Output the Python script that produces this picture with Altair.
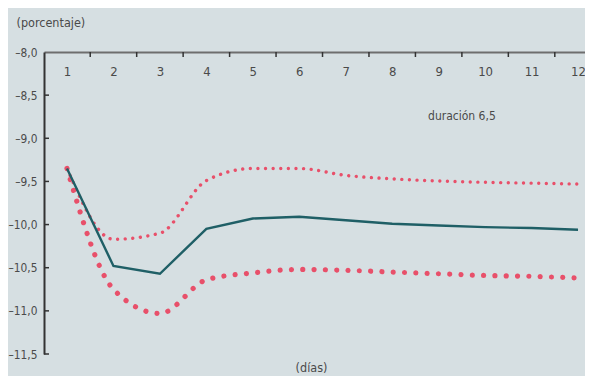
import altair as alt
import pandas as pd

# ---- data ----
dias = [1, 2, 3, 4, 5, 6, 7, 8, 9, 10, 11, 12]
central = [-9.35, -10.48, -10.57, -10.05, -9.93, -9.91, -9.95, -9.99, -10.01, -10.03, -10.04, -10.06]
superior = [-9.35, -10.17, -10.10, -9.49, -9.35, -9.35, -9.43, -9.47, -9.495, -9.51, -9.52, -9.53]
inferior = [-9.35, -10.75, -11.03, -10.64, -10.56, -10.52, -10.53, -10.55, -10.57, -10.59, -10.60, -10.62]

x_ticks = [1.5, 2.5, 3.5, 4.5, 5.5, 6.5, 7.5, 8.5, 9.5, 10.5, 11.5]
y_ticks = [-8.0, -8.5, -9.0, -9.5, -10.0, -10.5, -11.0, -11.5]
nota_texto = ["duración 6,5"]
nota_x = [9.5]
nota_y = [-8.79]

FONT = "DejaVu Sans Condensed"
TEXT = "#4a4a4a"
RED = "#e8506a"
TEAL = "#1f5f66"
BG = "#d6dfe2"

df = pd.DataFrame({"dia": dias, "central": central, "superior": superior, "inferior": inferior})
df_xt = pd.DataFrame({"dia": x_ticks})
df_yt = pd.DataFrame({"v": y_ticks[1:]})
df_note = pd.DataFrame({"texto": nota_texto, "x": nota_x, "y": nota_y})

xscale = alt.Scale(domain=[0.505, 12.15], nice=False, zero=False)
yscale = alt.Scale(domain=[-11.5, -8.0], nice=False, zero=False)

label_expr = "replace(replace(format(datum.value, '.1f'), '.', ','), '\u2212', '\u2013')"

xaxis = alt.Axis(orient="top", values=dias, format="d", ticks=False, tickSize=0,
                 labelPadding=-23, labelBaseline="alphabetic", labelFontSize=13,
                 labelFont=FONT, labelColor=TEXT, grid=False,
                 domainColor="#6e6e6e", domainWidth=2, title=None)
yaxis = alt.Axis(orient="left", values=y_ticks, labelExpr=label_expr, ticks=False,
                 tickSize=0, labelPadding=7, labelFontSize=11.8, labelFont=FONT,
                 labelColor=TEXT, grid=False, domainColor="#333333", domainWidth=2,
                 title="(porcentaje)", titleAngle=0, titleAlign="left",
                 titleBaseline="alphabetic", titleX=-28, titleY=-25.5,
                 titleFont=FONT, titleFontSize=12.5, titleFontWeight="normal",
                 titleColor=TEXT)

base = alt.Chart(df)

lower = base.mark_line(color=RED, strokeWidth=5.2, strokeDash=[0.01, 11.3], strokeCap="round",
                       interpolate="monotone").encode(
    x=alt.X("dia:Q", scale=xscale, axis=xaxis),
    y=alt.Y("inferior:Q", scale=yscale, axis=yaxis),
)

upper = base.mark_line(color=RED, strokeWidth=3.4, strokeDash=[0.01, 7.6], strokeCap="round",
                       interpolate="monotone").encode(
    x=alt.X("dia:Q", scale=xscale, axis=xaxis),
    y=alt.Y("superior:Q", scale=yscale, axis=yaxis),
)

solid = base.mark_line(color=TEAL, strokeWidth=2.4).encode(
    x=alt.X("dia:Q", scale=xscale, axis=xaxis),
    y=alt.Y("central:Q", scale=yscale, axis=yaxis),
)

xt = alt.Chart(df_xt).mark_rule(color="#333333", strokeWidth=1.5).encode(
    x=alt.X("dia:Q", scale=xscale, axis=xaxis),
    y=alt.value(0), y2=alt.value(5),
)

yt = alt.Chart(df_yt).mark_rule(color="#333333", strokeWidth=1.5).encode(
    y=alt.Y("v:Q", scale=yscale, axis=yaxis),
    x=alt.value(0), x2=alt.value(5),
)

note = alt.Chart(df_note).mark_text(font=FONT, fontSize=12, color=TEXT, align="center",
                                    baseline="alphabetic").encode(
    x=alt.X("x:Q", scale=xscale, axis=xaxis),
    y=alt.Y("y:Q", scale=yscale, axis=yaxis),
    text="texto:N",
)

chart = alt.layer(lower, upper, solid, xt, yt, note).properties(
    width=541, height=302,
    autosize=alt.AutoSizeParams(type="none"),
    padding={"left": 36, "top": 44, "right": 0, "bottom": 22},
    background=BG,
    title=alt.TitleParams("(días)", orient="bottom", anchor="middle", frame="group",
                          offset=1, baseline="top", dx=-3, font=FONT,
                          fontSize=12.5, fontWeight="normal", color=TEXT),
).configure_view(stroke=None)

chart.save("out.html", embed_options={"renderer": "svg", "actions": False})
